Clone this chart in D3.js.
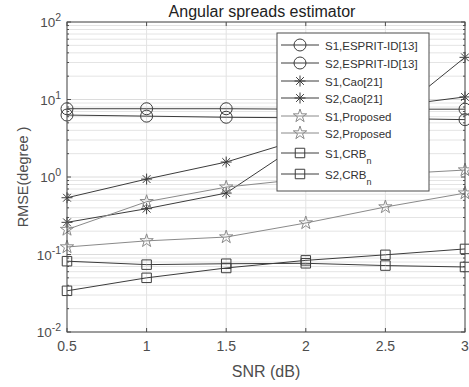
<!DOCTYPE html>
<html>
<head>
<meta charset="utf-8">
<script src="https://cdn.jsdelivr.net/npm/d3@7"></script>
<style>
  body { margin: 0; background: #fff; }
  text { font-family: "Liberation Sans", Arial, sans-serif; }
</style>
</head>
<body>
<svg id="chart" width="469" height="387"></svg>
<script>
const W = 469;
const H = 387;
const M = {left: 67, right: 465, top: 22, bottom: 332};

const snr = [0.5, 1, 1.5, 2, 2.5, 3];
const xTicks = [0.5, 1, 1.5, 2, 2.5, 3];
const yDecades = [-2, -1, 0, 1, 2];

const s1Esprit = [7.6, 7.6, 7.6, 7.5, 7.5, 7.5];
const s2Esprit = [6.3, 6.1, 5.9, 5.8, 5.7, 5.5];
const s1Cao = [0.54, 0.94, 1.56, 3.2, 5.2, 35];
const s2Cao = [0.26, 0.39, 0.62, 3.0, 8.0, 10.8];
const s1Proposed = [0.21, 0.48, 0.74, 0.95, 1.08, 1.23];
const s2Proposed = [0.125, 0.15, 0.168, 0.255, 0.41, 0.62];
const s1Crb = [0.082, 0.074, 0.076, 0.077, 0.072, 0.069];
const s2Crb = [0.034, 0.05, 0.067, 0.084, 0.099, 0.118];

const seriesNames = ["S1,ESPRIT-ID[13]", "S2,ESPRIT-ID[13]", "S1,Cao[21]", "S2,Cao[21]",
                     "S1,Proposed", "S2,Proposed", "S1,CRB", "S2,CRB"];
const seriesValues = [s1Esprit, s2Esprit, s1Cao, s2Cao, s1Proposed, s2Proposed, s1Crb, s2Crb];
const seriesMarker = ["circle", "circle", "asterisk", "asterisk", "star", "star", "square", "square"];

const DARK = "#3c3c3c";
const LIGHT = "#8a8a8a";
const seriesColor = [DARK, DARK, DARK, DARK, LIGHT, LIGHT, DARK, DARK];

const svg = d3.select("#chart");
const x = d3.scaleLinear().domain([0.5, 3]).range([M.left, M.right]);
const y = d3.scaleLog().domain([0.01, 100]).range([M.bottom, M.top]);

// grid
const minorVals = [];
for (let d = -2; d < 2; d++) {
    for (let k = 2; k <= 9; k++) minorVals.push(k * Math.pow(10, d));
}
const grid = svg.append("g");
grid.selectAll(".minor").data(minorVals).enter().append("line")
    .attr("x1", M.left).attr("x2", M.right)
    .attr("y1", d => y(d)).attr("y2", d => y(d))
    .attr("stroke", "#e4e4e4").attr("stroke-width", 1);
grid.selectAll(".ymaj").data(yDecades).enter().append("line")
    .attr("x1", M.left).attr("x2", M.right)
    .attr("y1", d => y(Math.pow(10, d))).attr("y2", d => y(Math.pow(10, d)))
    .attr("stroke", "#dcdcdc");
grid.selectAll(".xmaj").data(xTicks).enter().append("line")
    .attr("x1", d => x(d)).attr("x2", d => x(d))
    .attr("y1", M.top).attr("y2", M.bottom)
    .attr("stroke", "#e3e3e3");

// markers
function markerPath(kind) {
    if (kind === "circle") return d3.symbol(d3.symbolCircle, 113)();
    if (kind === "square") return d3.symbol(d3.symbolSquare, 90)();
    if (kind === "star") return d3.symbol(d3.symbolStar, 55)();
    const r = 5.5, a = r * 0.707;
    return `M${-r},0L${r},0M0,${-r}L0,${r}M${-a},${-a}L${a},${a}M${-a},${a}L${a},${-a}`;
}

const line = d3.line().x((d, i) => x(snr[i])).y(d => y(d));
const plot = svg.append("g");
seriesValues.forEach((vals, s) => {
    const g = plot.append("g");
    g.append("path").attr("d", line(vals))
        .attr("fill", "none").attr("stroke", seriesColor[s]).attr("stroke-width", 1);
    g.selectAll("path.m").data(vals).enter().append("path")
        .attr("class", "m")
        .attr("d", markerPath(seriesMarker[s]))
        .attr("transform", (d, i) => `translate(${x(snr[i])},${y(d)})`)
        .attr("fill", "none").attr("stroke", seriesColor[s]).attr("stroke-width", 1);
});

// axes box
const axisColor = "#4d4d4d";
svg.append("rect")
    .attr("x", M.left).attr("y", M.top)
    .attr("width", M.right - M.left).attr("height", M.bottom - M.top)
    .attr("fill", "none").attr("stroke", axisColor);

const ticks = svg.append("g").attr("stroke", axisColor);
xTicks.forEach(t => {
    ticks.append("line").attr("x1", x(t)).attr("x2", x(t)).attr("y1", M.bottom).attr("y2", M.bottom - 4);
    ticks.append("line").attr("x1", x(t)).attr("x2", x(t)).attr("y1", M.top).attr("y2", M.top + 4);
});
yDecades.forEach(d => {
    const yy = y(Math.pow(10, d));
    ticks.append("line").attr("x1", M.left).attr("x2", M.left + 4).attr("y1", yy).attr("y2", yy);
    ticks.append("line").attr("x1", M.right).attr("x2", M.right - 4).attr("y1", yy).attr("y2", yy);
});
minorVals.forEach(v => {
    const yy = y(v);
    ticks.append("line").attr("x1", M.left).attr("x2", M.left + 2).attr("y1", yy).attr("y2", yy);
    ticks.append("line").attr("x1", M.right).attr("x2", M.right - 2).attr("y1", yy).attr("y2", yy);
});

// tick labels
const labelColor = "#4d4d4d";
svg.append("g").selectAll("text").data(xTicks).enter().append("text")
    .attr("x", d => x(d)).attr("y", M.bottom + 19)
    .attr("text-anchor", "middle").attr("font-size", 14).attr("fill", labelColor)
    .text(d => d);

const yl = svg.append("g").selectAll("text").data(yDecades).enter().append("text")
    .attr("x", M.left - 6).attr("y", d => y(Math.pow(10, d)) + 5)
    .attr("text-anchor", "end").attr("font-size", 13.5).attr("fill", labelColor);
yl.append("tspan").text("10");
yl.append("tspan").attr("dy", -6).attr("font-size", 10.5).text(d => d);

// titles
svg.append("text").attr("x", 262).attr("y", 17)
    .attr("text-anchor", "middle").attr("font-size", 16).attr("fill", "#222")
    .text("Angular spreads estimator");
svg.append("text").attr("x", (M.left + M.right) / 2).attr("y", 377)
    .attr("text-anchor", "middle").attr("font-size", 16).attr("fill", labelColor)
    .text("SNR (dB)");
svg.append("text")
    .attr("transform", `translate(28,${(M.top + M.bottom) / 2}) rotate(-90)`)
    .attr("text-anchor", "middle").attr("font-size", 14.5).attr("fill", labelColor)
    .text("RMSE(degree )");

// legend
const legendRows = [45, 63, 81, 98, 116, 133, 153, 174];
const lg = svg.append("g");
lg.append("rect").attr("x", 277).attr("y", 33).attr("width", 152).attr("height", 158)
    .attr("fill", "#fff").attr("stroke", axisColor);
seriesNames.forEach((name, s) => {
    const yy = legendRows[s];
    lg.append("line").attr("x1", 281).attr("x2", 319).attr("y1", yy).attr("y2", yy)
        .attr("stroke", seriesColor[s]);
    lg.append("path").attr("d", markerPath(seriesMarker[s]))
        .attr("transform", `translate(300,${yy})`)
        .attr("fill", "none").attr("stroke", seriesColor[s]);
    const t = lg.append("text").attr("x", 325).attr("y", yy + 4.5)
        .attr("font-size", 11.5).attr("fill", "#333");
    if (name.endsWith("CRB")) {
        t.append("tspan").text(name);
        t.append("tspan").attr("dy", 6).attr("font-size", 9).text("n");
    } else {
        t.text(name);
    }
});
</script>
</body>
</html>
